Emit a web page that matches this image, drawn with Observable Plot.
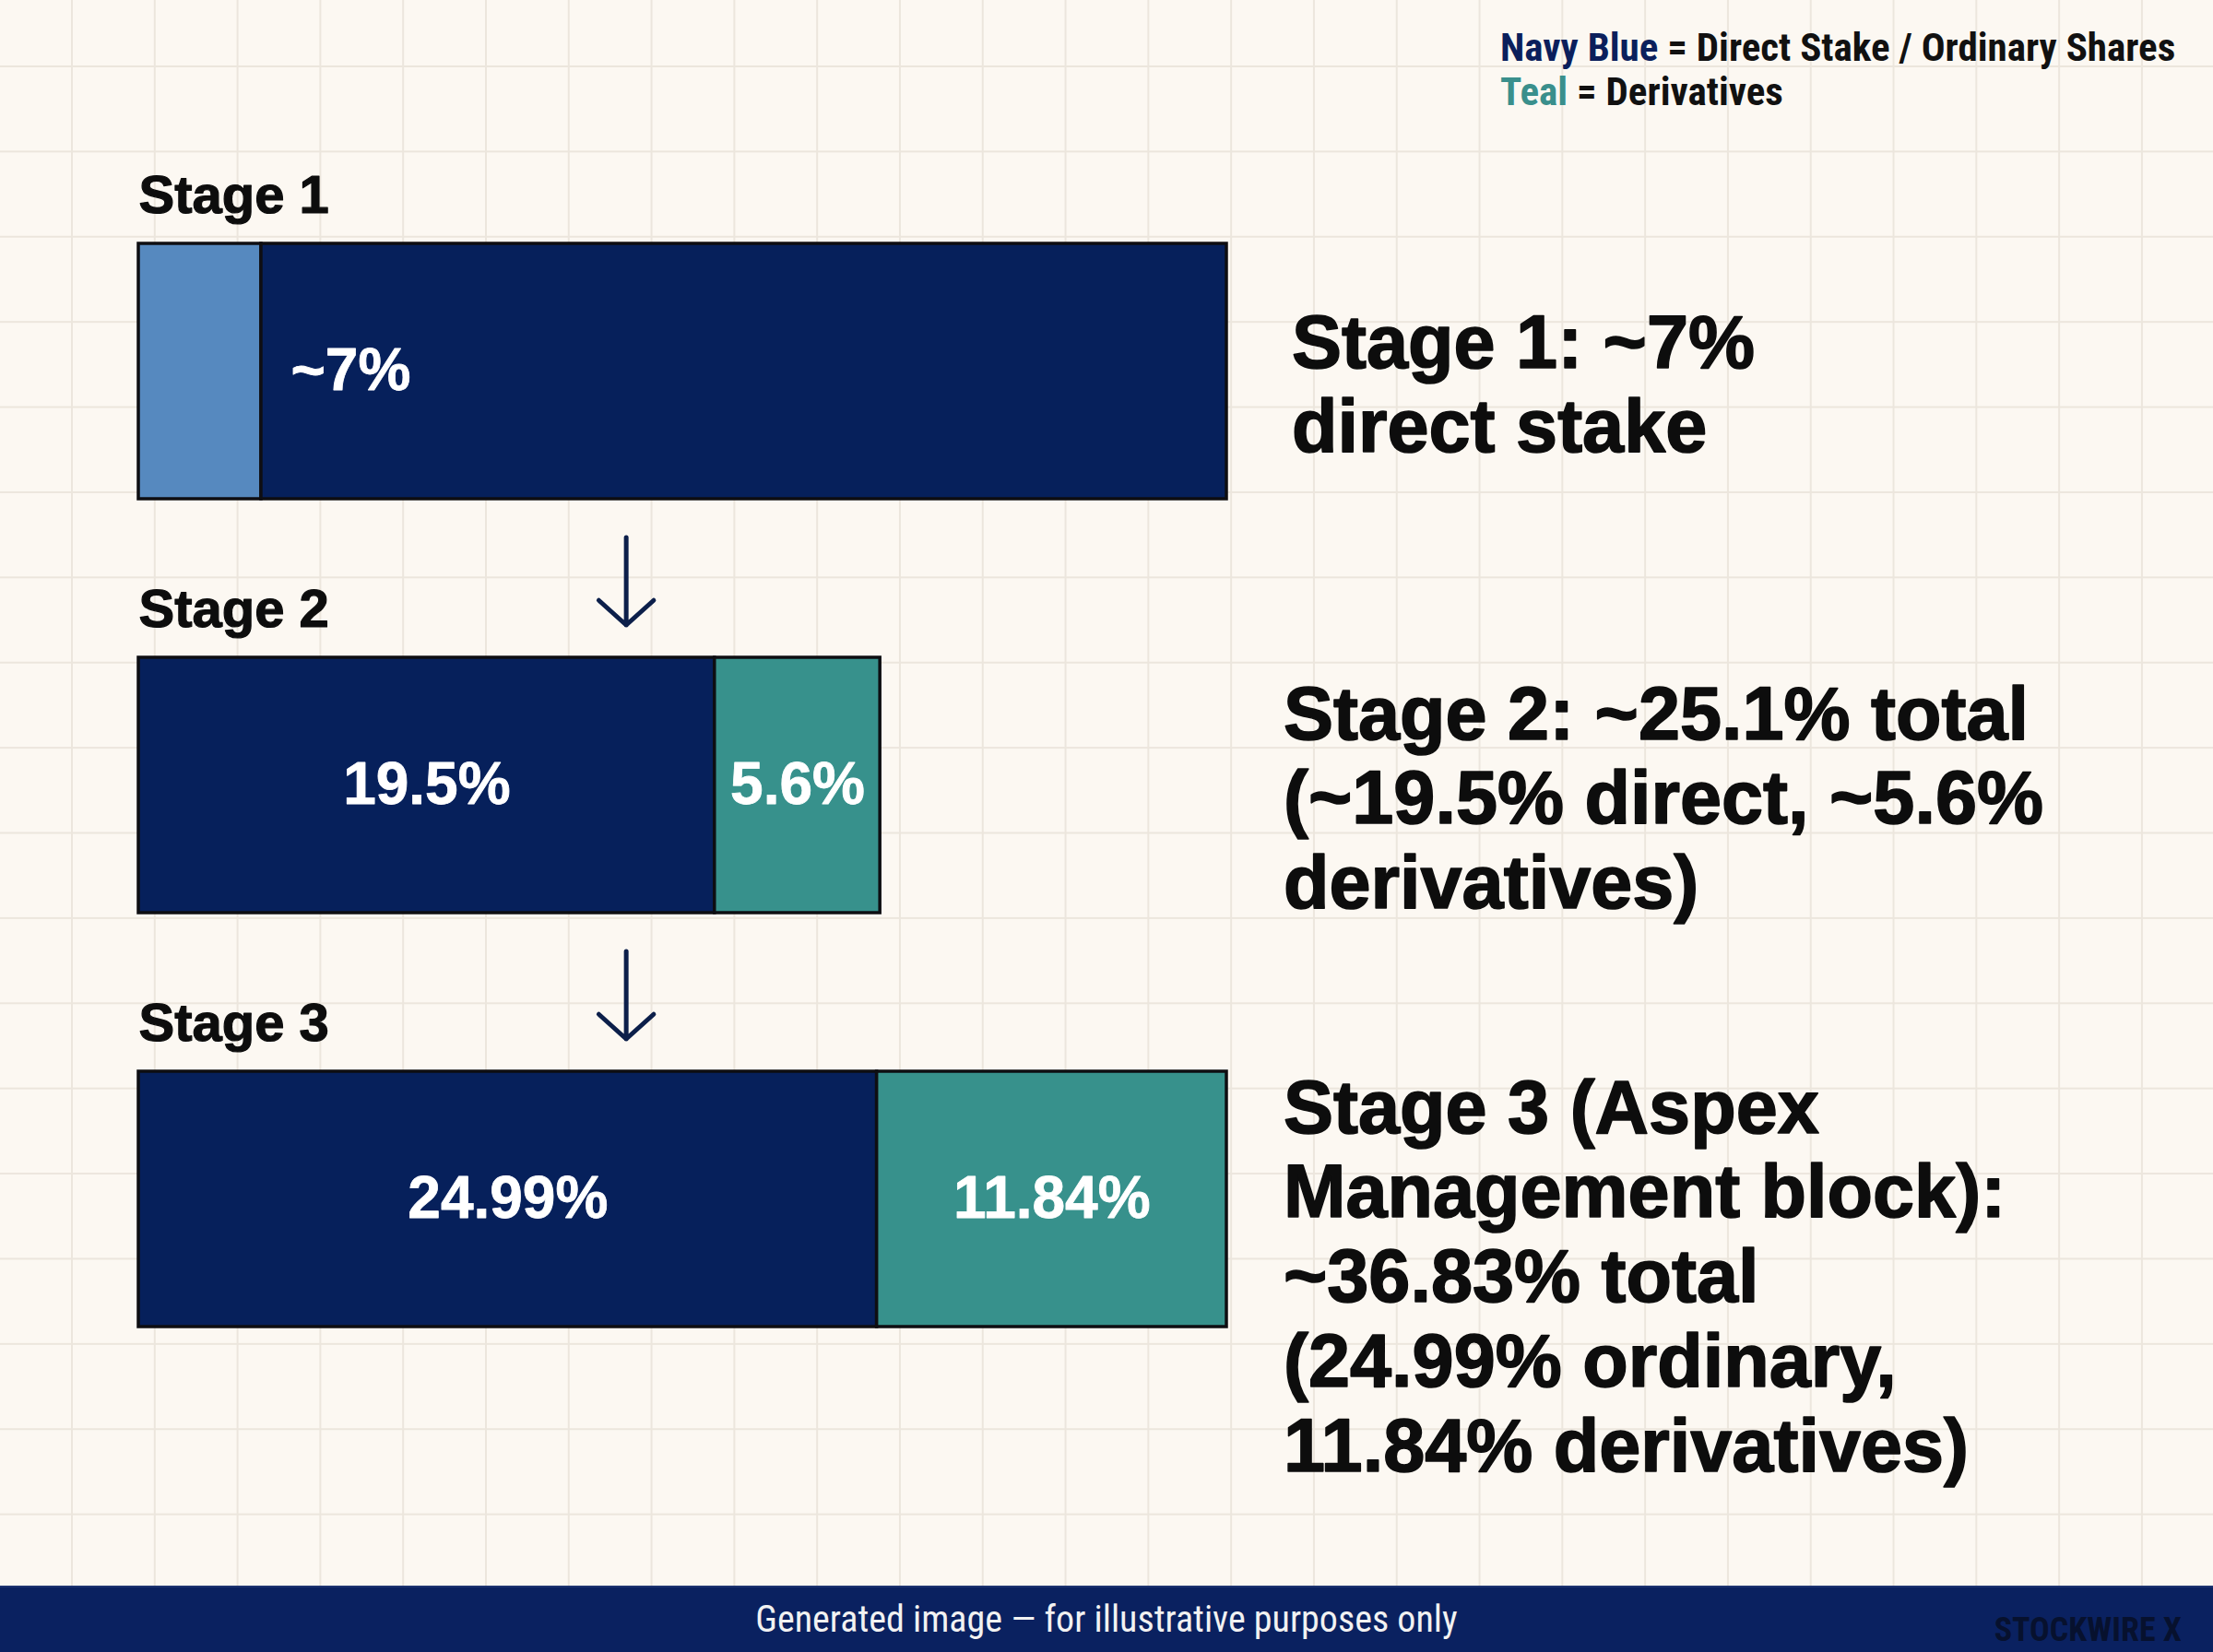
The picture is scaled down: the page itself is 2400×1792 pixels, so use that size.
<!DOCTYPE html>
<html>
<head>
<meta charset="utf-8">
<script src="https://cdn.jsdelivr.net/npm/d3@7"></script>
<script src="https://cdn.jsdelivr.net/npm/@observablehq/plot@0.6"></script>
<style>
  html, body { margin: 0; padding: 0; }
  body {
    width: 2400px; height: 1792px; position: relative; overflow: hidden;
    background-color: #fcf8f2;
    background-image:
      linear-gradient(to right, #ece6dd 2px, transparent 2px),
      linear-gradient(to bottom, #ece6dd 2px, transparent 2px);
    background-size: 89.8px 92.4px;
    background-position: 77px 71px;
  }
  #chart { position: absolute; left: 0; top: 0; }
  #legend {
    position: absolute; left: 1627px; top: 27px;
    font-family: "Liberation Sans Narrow", "Roboto Condensed", "DejaVu Sans Condensed", "Liberation Sans", sans-serif;
    font-weight: 700; font-size: 43px; line-height: 48px; color: #111; white-space: nowrap;
  }
  #legend .navy { color: #0b1f5c; }
  #legend .teal { color: #3a8f8c; }
  #footer {
    position: absolute; left: 0; top: 1720px; width: 2400px; height: 72px;
    background: #0a2160; border-top: 2px solid #1d3370; box-sizing: border-box;
  }
  #footer .note {
    position: absolute; left: 0; right: 0; top: 0; text-align: center;
    font-family: "Liberation Sans Narrow", "Roboto Condensed", "Liberation Sans", sans-serif;
    font-size: 40px; line-height: 70px; color: #f2f2f2;
  }
  #footer .brand {
    position: absolute; right: 34px; top: 18px;
    font-family: "Liberation Sans Narrow", "Roboto Condensed", "Liberation Sans", sans-serif;
    font-weight: 700; font-size: 36px; line-height: 56px; color: #07112e;
  }
</style>
</head>
<body>
<div id="chart"></div>
<div id="legend"><span class="navy">Navy Blue</span> = Direct Stake / Ordinary Shares<br><span class="teal">Teal</span> = Derivatives</div>
<div id="footer"><div class="note">Generated image — for illustrative purposes only</div><div class="brand">STOCKWIRE X</div></div>
<script>
// ---- Data ----
const stages = ["Stage 1", "Stage 2", "Stage 3"];
const segStage = ["Stage 1", "Stage 1", "Stage 2", "Stage 2", "Stage 3", "Stage 3"];
const segType  = ["Initial", "Direct", "Direct", "Derivatives", "Direct", "Derivatives"];
const segValue = [4.15, 32.68, 19.5, 5.6, 24.99, 11.84];
const segLabel = ["", "~7%", "19.5%", "5.6%", "24.99%", "11.84%"];
const types = ["Initial", "Direct", "Derivatives"];
const typeColors = ["#5689bf", "#06205b", "#37918c"];
const annotationStage = ["Stage 1", "Stage 2", "Stage 3"];
const annotationText = [
  "Stage 1: ~7%\ndirect stake",
  "Stage 2: ~25.1% total\n(~19.5% direct, ~5.6%\nderivatives)",
  "Stage 3 (Aspex\nManagement block):\n~36.83% total\n(24.99% ordinary,\n11.84% derivatives)"
];
const transFrom = ["Stage 1", "Stage 2"];
const transTo   = ["Stage 2", "Stage 3"];

// ---- Build tables ----
const segs = segStage.map((s, i) => ({stage: s, type: segType[i], value: segValue[i], label: segLabel[i]}));
const annotations = annotationStage.map((s, i) => ({stage: s, text: annotationText[i]}));
const transitions = transFrom.map((f, i) => ({from: f, to: transTo[i]}));

const FONT = '"Liberation Sans", Arial, Helvetica, sans-serif';
const total = d3.max(stages, s => d3.sum(segs.filter(d => d.stage === s), d => d.value));

const annoCommon = {x: 38.75, y: "stage", text: "text", textAnchor: "start", lineAnchor: "top",
  fontSize: 81, fontWeight: "bold", fontFamily: FONT, fill: "#0d0d0d",
  stroke: "#0d0d0d", strokeWidth: 1.6, lineHeight: 1.133};

const chart = Plot.plot({
  width: 2400,
  height: 1720,
  margin: 0,
  style: {background: "transparent", overflow: "visible"},
  x: {domain: [0, total], range: [150, 1330], axis: null},
  y: {type: "band", domain: stages, range: [263, 1439], paddingInner: 0.3838, paddingOuter: 0, axis: null},
  color: {domain: types, range: typeColors},
  marks: [
    Plot.barX(segs, Plot.stackX({x: "value", y: "stage", fill: "type", stroke: "#0e0e12", strokeWidth: 3.5})),
    Plot.textX(segs, Plot.stackX({x: "value", y: "stage",
      text: d => d.stage === "Stage 1" ? null : d.label,
      fill: "white", stroke: "white", strokeWidth: 0.8, fontSize: 64, fontWeight: "bold", fontFamily: FONT})),
    Plot.textX(segs, Plot.stackX1({x: "value", y: "stage",
      text: d => (d.stage === "Stage 1" && d.label) ? d.label : null,
      textAnchor: "start", dx: 32,
      fill: "white", stroke: "white", strokeWidth: 0.8, fontSize: 64, fontWeight: "bold", fontFamily: FONT})),
    Plot.text(stages, {x: 0, y: d => d, text: d => d, textAnchor: "start", lineAnchor: "bottom", dy: -172,
      fontSize: 58, fontWeight: "bold", fontFamily: FONT, fill: "#0d0d0d", stroke: "#0d0d0d", strokeWidth: 1.2}),
    Plot.arrow(transitions, {x1: 16.5, x2: 16.5, y1: "from", y2: "to", insetStart: 180, insetEnd: 174,
      stroke: "#0c1f4a", strokeWidth: 5, headAngle: 96, headLength: 12, strokeLinecap: "round"}),
    Plot.text(annotations.filter(d => d.stage === "Stage 1"), {...annoCommon, dx: 9, dy: -69.5}),
    Plot.text(annotations.filter(d => d.stage === "Stage 2"), {...annoCommon, dy: -115.5}),
    Plot.text(annotations.filter(d => d.stage === "Stage 3"), {...annoCommon, dy: -137.5})
  ]
});
document.getElementById("chart").appendChild(chart);
</script>
</body>
</html>
